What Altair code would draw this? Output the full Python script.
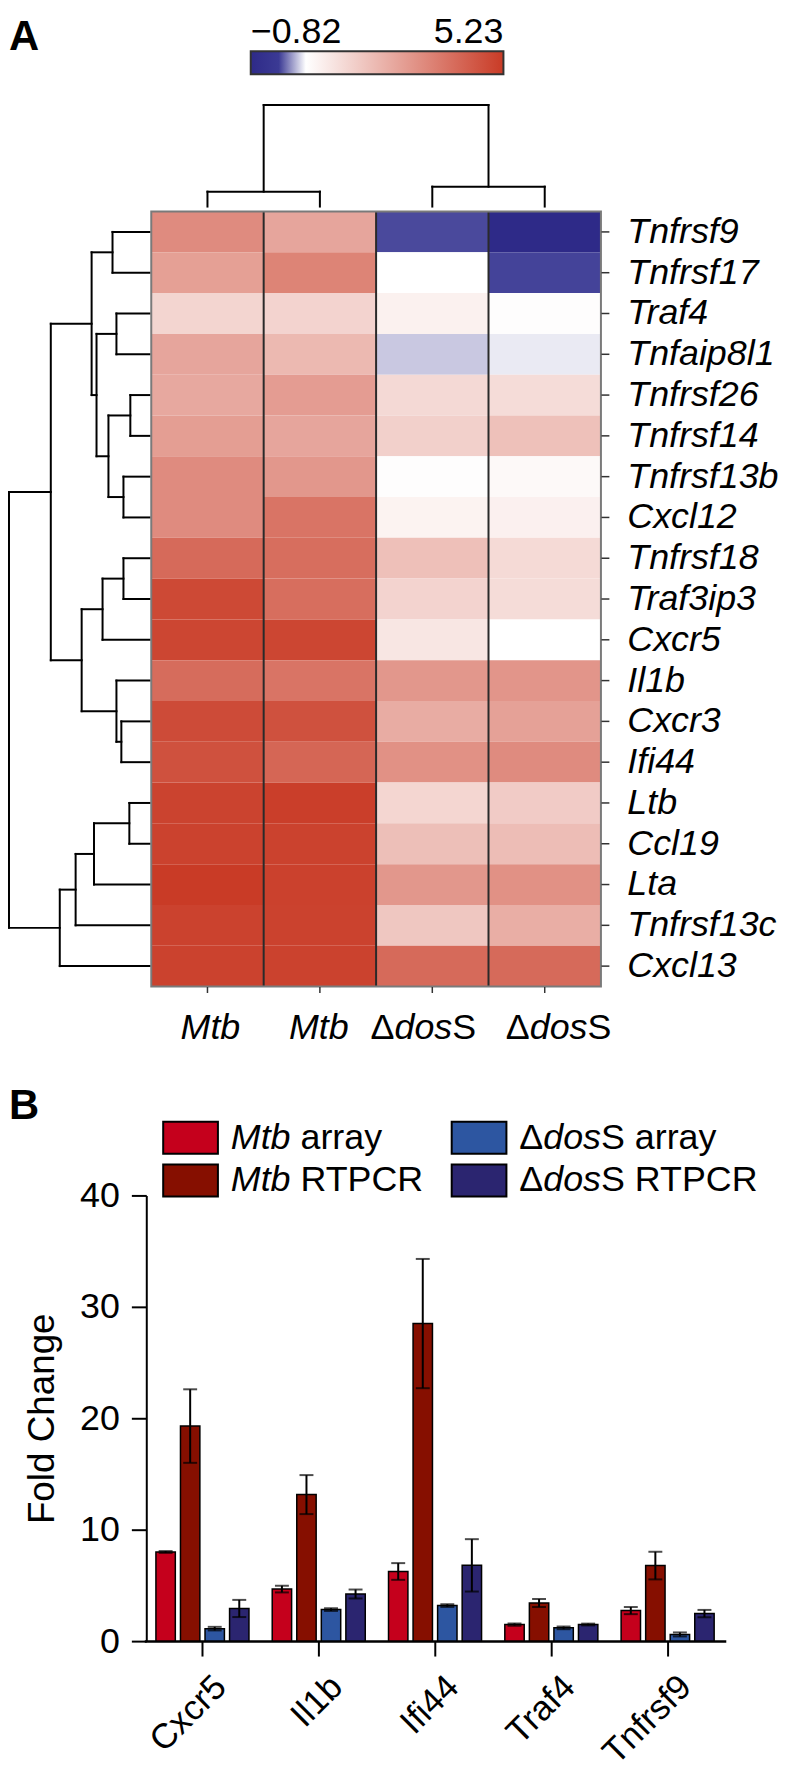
import altair as alt
import pandas as pd

FONT = "Liberation Sans, Arial, Helvetica, sans-serif"
CW, CH = 776, 1768

# ---------------- Panel A : heatmap data ----------------
genes = ["Tnfrsf9", "Tnfrsf17", "Traf4", "Tnfaip8l1", "Tnfrsf26", "Tnfrsf14",
         "Tnfrsf13b", "Cxcl12", "Tnfrsf18", "Traf3ip3", "Cxcr5", "Il1b", "Cxcr3",
         "Ifi44", "Ltb", "Ccl19", "Lta", "Tnfrsf13c", "Cxcl13"]
samples = ["Mtb_1", "Mtb_2", "dosS_1", "dosS_2"]

mtb_1 = [3.3, 2.8, 1.52, 2.66, 2.6, 2.85, 3.3, 3.3, 4.1, 4.9, 4.97, 4.05, 4.84, 4.7, 5.03, 5.05, 5.23, 5.05, 5.05]
mtb_2 = [2.66, 3.48, 1.55, 2.2, 2.88, 2.66, 3.0, 3.85, 4.0, 4.0, 4.97, 3.85, 4.7, 4.2, 5.15, 5.05, 5.08, 5.05, 5.05]
dos_1 = [-0.1, 0.5, 0.84, 0.32, 1.42, 1.64, 0.55, 0.8, 2.03, 1.55, 1.1, 3.0, 2.5, 3.15, 1.5, 2.05, 3.0, 1.86, 4.1]
dos_2 = [-0.82, -0.12, 0.55, 0.43, 1.35, 2.0, 0.65, 0.85, 1.4, 1.35, 0.5, 3.05, 2.76, 3.3, 1.75, 2.1, 3.15, 2.46, 4.1]

color_stops = [-0.82, -0.15, 0.5, 5.23]
color_range = ["#2e2a88", "#3b3a94", "#ffffff", "#c93b26"]
colorbar_labels = [-0.82, 5.23]

# dendrogram merges: (name, left child, right child, merge height)
row_merges = [
    ("A", "Tnfrsf9", "Tnfrsf17", 0.262),
    ("B", "Traf4", "Tnfaip8l1", 0.234),
    ("C1", "Tnfrsf26", "Tnfrsf14", 0.135),
    ("C2", "Tnfrsf13b", "Cxcl12", 0.184),
    ("C", "C1", "C2", 0.291),
    ("BC", "B", "C", 0.376),
    ("D", "A", "BC", 0.411),
    ("E", "Tnfrsf18", "Traf3ip3", 0.184),
    ("F", "E", "Cxcr5", 0.333),
    ("H", "Cxcr3", "Ifi44", 0.199),
    ("I", "Il1b", "H", 0.234),
    ("G", "F", "I", 0.482),
    ("J", "D", "G", 0.702),
    ("K", "Ltb", "Ccl19", 0.142),
    ("L", "K", "Lta", 0.394),
    ("M", "L", "Tnfrsf13c", 0.525),
    ("N", "M", "Cxcl13", 0.638),
    ("R", "J", "N", 1.0),
]
col_merges = [
    ("m", "Mtb_1", "Mtb_2", 0.147),
    ("d", "dosS_1", "dosS_2", 0.196),
    ("r", "m", "d", 1.0),
]

# ---------------- Panel B : bar data ----------------
genes_b = ["Cxcr5", "Il1b", "Ifi44", "Traf4", "Tnfrsf9"]
series = ["Mtb array", "Mtb RTPCR", "ΔdosS array", "ΔdosS RTPCR"]
series_colors = ["#c5001c", "#860f00", "#2d56a1", "#2b2570"]
mtb_array = [8.0, 4.67, 6.25, 1.49, 2.74]
mtb_array_err = [0.08, 0.3, 0.75, 0.1, 0.32]
mtb_rtpcr = [19.3, 13.15, 28.5, 3.42, 6.78]
mtb_rtpcr_err = [3.3, 1.75, 5.8, 0.36, 1.24]
dos_array = [1.12, 2.83, 3.19, 1.19, 0.6]
dos_array_err = [0.16, 0.12, 0.12, 0.12, 0.18]
dos_rtpcr = [2.93, 4.23, 6.8, 1.49, 2.47]
dos_rtpcr_err = [0.77, 0.4, 2.35, 0.08, 0.33]

# ---------------- helpers ----------------
CHW = {'A': 0.667, 'B': 0.667, 'C': 0.722, 'D': 0.722, 'M': 0.833, 'P': 0.667,
       'R': 0.722, 'S': 0.667, 'T': 0.611, 'a': 0.556, 'b': 0.556, 'd': 0.556,
       'o': 0.556, 'r': 0.333, 's': 0.5, 't': 0.278, 'y': 0.5, ' ': 0.278,
       'Δ': 0.668}


def tw(s, fs):
    return sum(CHW.get(c, 0.556) for c in s) * fs


def dendro_segments(leaves, merges):
    pos = {g: float(i) for i, g in enumerate(leaves)}
    hgt = {g: 0.0 for g in leaves}
    segs = []
    for name, a, b, h in merges:
        pa, pb = pos[a], pos[b]
        segs.append(dict(p1=pa, p2=pb, h1=h, h2=h))
        segs.append(dict(p1=pa, p2=pa, h1=hgt[a], h2=h))
        segs.append(dict(p1=pb, p2=pb, h1=hgt[b], h2=h))
        pos[name] = (pa + pb) / 2
        hgt[name] = h
    return pd.DataFrame(segs)


def q(domain, rng):
    return alt.Scale(domain=domain, range=rng, nice=False, zero=False)


# layout (chart pixel coordinates; page adds 8px margin)
HM_X = [144, 596]
HM_Y = [200, 979]
CB_X = [244, 498]
n_s, n_g = len(samples), len(genes)

# ---------------- heatmap ----------------
hm_rows = []
for s, vals in zip(samples, [mtb_1, mtb_2, dos_1, dos_2]):
    for g, v in zip(genes, vals):
        hm_rows.append({"gene": g, "sample": s, "value": v})
hm_df = pd.DataFrame(hm_rows)

hm_x_scale = alt.Scale(domain=samples, range=HM_X, paddingInner=0, paddingOuter=0)
hm_y_scale = alt.Scale(domain=genes, range=HM_Y, paddingInner=0, paddingOuter=0)

cells = alt.Chart(hm_df).mark_rect().encode(
    x=alt.X("sample:N", scale=hm_x_scale, title=None,
            axis=alt.Axis(orient="bottom", offset=HM_Y[1] - CH, labels=False,
                          domain=False, ticks=True, tickSize=6, tickColor="#333333",
                          tickWidth=1.5, grid=False)),
    y=alt.Y("gene:N", scale=hm_y_scale, title=None,
            axis=alt.Axis(orient="right", offset=HM_X[1] - CW, domain=False,
                          tickSize=8, tickColor="#333333", tickWidth=1.5,
                          labelFont=FONT, labelFontSize=36, labelFontStyle="italic",
                          labelPadding=18, labelColor="black", labelLimit=300,
                          labelOverlap=False, grid=False)),
    color=alt.Color("value:Q", scale=alt.Scale(domain=color_stops, range=color_range,
                                               interpolate="rgb"),
                    legend=None),
)

# colour bar: a rect spanning the colour domain, filled with the same stops
cb_scale = q([color_stops[0], color_stops[-1]], CB_X)
span = color_stops[-1] - color_stops[0]
cb_grad = alt.LinearGradient(
    gradient="linear", x1=0, x2=1, y1=0, y2=0,
    stops=[alt.GradientStop(color=c, offset=(s - color_stops[0]) / span)
           for s, c in zip(color_stops, color_range)])
cb_bar = alt.Chart(pd.DataFrame({"v1": [color_stops[0]], "v2": [color_stops[-1]]})).mark_rect(
    fill=cb_grad, stroke="#333333", strokeWidth=2).encode(
    x=alt.X("v1:Q", scale=cb_scale, axis=None), x2="v2:Q",
    y=alt.value(39), y2=alt.value(62))
cb_df = pd.DataFrame({"v": colorbar_labels,
                      "txt": [f"{v:.2f}".replace("-", "\u2212") for v in colorbar_labels]})
cb_left = alt.Chart(cb_df.iloc[:1]).mark_text(
    font=FONT, fontSize=36, align="left", baseline="alphabetic", color="black").encode(
    x=alt.X("v:Q", scale=cb_scale, axis=None), y=alt.value(31), text="txt:N")
cb_right = alt.Chart(cb_df.iloc[1:]).mark_text(
    font=FONT, fontSize=36, align="right", baseline="alphabetic", color="black").encode(
    x=alt.X("v:Q", scale=cb_scale, axis=None), y=alt.value(31), text="txt:N")
colorbar = alt.layer(cb_bar, cb_left, cb_right)

# outline and column dividers
ox = q([-0.5, n_s - 0.5], HM_X)
oy = q([-0.5, n_g - 0.5], HM_Y)
border_df = pd.DataFrame({"x1": [-0.5], "x2": [n_s - 0.5], "y1": [-0.5], "y2": [n_g - 0.5]})
div_df = pd.DataFrame({"x1": [i + 0.5 for i in range(n_s - 1)],
                       "y1": [-0.5] * (n_s - 1), "y2": [n_g - 0.5] * (n_s - 1)})
border = alt.Chart(border_df).mark_rect(fill="transparent", stroke="#7a7a7a", strokeWidth=2).encode(
    x=alt.X("x1:Q", scale=ox, axis=None), x2="x2:Q",
    y=alt.Y("y1:Q", scale=oy, axis=None), y2="y2:Q")
dividers = alt.Chart(div_df).mark_rule(color="#2a2a2a", strokeWidth=2).encode(
    x=alt.X("x1:Q", scale=ox, axis=None),
    y=alt.Y("y1:Q", scale=oy, axis=None), y2="y2:Q")
outline = alt.layer(dividers, border)

# row dendrogram
rd_df = dendro_segments(genes, row_merges)
rowd = alt.Chart(rd_df).mark_rule(color="black", strokeWidth=2, strokeCap="square").encode(
    x=alt.X("h1:Q", scale=q([0, 1], [142, 1]), axis=None), x2="h2:Q",
    y=alt.Y("p1:Q", scale=oy, axis=None), y2="p2:Q")

# column dendrogram
cd_df = dendro_segments(samples, col_merges)
cold = alt.Chart(cd_df).mark_rule(color="black", strokeWidth=2, strokeCap="square").encode(
    x=alt.X("p1:Q", scale=ox, axis=None), x2="p2:Q",
    y=alt.Y("h1:Q", scale=q([0, 1], [195, 93]), axis=None), y2="h2:Q")

# column labels with mixed italic
col_label_parts = {
    "Mtb_1": [("Mtb", "italic")],
    "Mtb_2": [("Mtb", "italic")],
    "dosS_1": [("Δ", "normal"), ("dos", "italic"), ("S", "normal")],
    "dosS_2": [("Δ", "normal"), ("dos", "italic"), ("S", "normal")],
}
col_label_nudge = {"Mtb_1": 3, "Mtb_2": -1, "dosS_1": -9, "dosS_2": 14}
LFS = 36
collab_layers = []
for s in samples:
    parts = col_label_parts[s]
    total = tw("".join(p for p, _ in parts), LFS)
    off = -total / 2 + col_label_nudge[s]
    for txt, style in parts:
        collab_layers.append(
            alt.Chart(pd.DataFrame({"sample": [s], "txt": [txt]})).mark_text(
                font=FONT, fontSize=LFS, fontStyle=style, align="left",
                baseline="alphabetic", dx=off, color="black"
            ).encode(x=alt.X("sample:N", scale=hm_x_scale, axis=None),
                     y=alt.value(1032), text="txt:N"))
        off += tw(txt, LFS)
collab = alt.layer(*collab_layers)

# ---------------- Panel B : bars ----------------
bar_rows = []
for sname, vals, errs in zip(series, [mtb_array, mtb_rtpcr, dos_array, dos_rtpcr],
                             [mtb_array_err, mtb_rtpcr_err, dos_array_err, dos_rtpcr_err]):
    for g, v, e in zip(genes_b, vals, errs):
        bar_rows.append({"gene": g, "series": sname, "value": v,
                         "lo": v - e, "hi": v + e})
bar_df = pd.DataFrame(bar_rows)

bx = alt.Scale(domain=genes_b, range=[137, 721.5], paddingInner=0.2, paddingOuter=0.1)
by = q([0, 40], [1637, 1189])
bxo = alt.Scale(domain=series, paddingInner=0.21, paddingOuter=0)
bcol = alt.Scale(domain=series, range=series_colors)

xaxis_b = alt.Axis(orient="bottom", offset=1637 - CH, tickSize=15, tickWidth=2,
                   tickColor="black", domainWidth=2.5, domainColor="black",
                   labelAngle=-45, labelAlign="right", labelBaseline="top",
                   labelFont=FONT, labelFontSize=35, labelPadding=13, labelOffset=6,
                   labelColor="black", grid=False)
yaxis_b = alt.Axis(orient="left", offset=-139, values=[0, 10, 20, 30, 40],
                   tickSize=15, tickWidth=2, tickColor="black", domainWidth=2,
                   domainColor="black", labelFont=FONT, labelFontSize=36,
                   labelPadding=12, labelColor="black", titleFont=FONT,
                   titleFontSize=37, titleFontWeight="normal", titleColor="black",
                   titlePadding=18, grid=False)

bbase = alt.Chart(bar_df).encode(
    x=alt.X("gene:N", scale=bx, axis=xaxis_b, title=None),
    xOffset=alt.XOffset("series:N", scale=bxo))
bars = bbase.mark_bar(stroke="black", strokeWidth=1.5).encode(
    y=alt.Y("value:Q", scale=by, axis=yaxis_b, title="Fold Change"),
    color=alt.Color("series:N", scale=bcol, legend=None))
err = bbase.mark_rule(color="black", strokeWidth=2).encode(
    y=alt.Y("lo:Q", scale=by, axis=yaxis_b, title="Fold Change"), y2="hi:Q")
cap_lo = bbase.mark_tick(orient="horizontal", size=14, thickness=2, color="black").encode(
    y=alt.Y("lo:Q", scale=by, axis=yaxis_b, title="Fold Change"))
cap_hi = bbase.mark_tick(orient="horizontal", size=14, thickness=2, color="black").encode(
    y=alt.Y("hi:Q", scale=by, axis=yaxis_b, title="Fold Change"))
bar_layer = alt.layer(bars, err, cap_lo, cap_hi)

# ---------------- Panel B : legend ----------------
leg_df = pd.DataFrame({"series": series,
                       "col": [i // 2 for i in range(len(series))],
                       "row": [i % 2 for i in range(len(series))]})
lx = q([0, 1], [183.5, 473.5])
ly = q([0, 1], [1131, 1174])
RECT = "M-1,-0.582H1V0.582H-1Z"
swatches = alt.Chart(leg_df).mark_point(shape=RECT, size=3025, filled=True, opacity=1,
                                         stroke="black", strokeWidth=2).encode(
    x=alt.X("col:Q", scale=lx, axis=None), y=alt.Y("row:Q", scale=ly, axis=None),
    color=alt.Color("series:N", scale=bcol, legend=None))

legend_parts = {
    "Mtb array": [("Mtb", "italic"), (" array", "normal")],
    "Mtb RTPCR": [("Mtb", "italic"), (" RTPCR", "normal")],
    "ΔdosS array": [("Δ", "normal"), ("dos", "italic"), ("S array", "normal")],
    "ΔdosS RTPCR": [("Δ", "normal"), ("dos", "italic"), ("S RTPCR", "normal")],
}
leg_text_layers = []
for _, r in leg_df.iterrows():
    off = 40.5
    for txt, style in legend_parts[r["series"]]:
        lead = len(txt) - len(txt.lstrip(" "))
        shown = txt.lstrip(" ")
        leg_text_layers.append(
            alt.Chart(pd.DataFrame({"col": [r["col"]], "row": [r["row"]], "txt": [shown]})).mark_text(
                font=FONT, fontSize=36, fontStyle=style, align="left", baseline="middle",
                dx=off + tw(" " * lead, 36), color="black"
            ).encode(x=alt.X("col:Q", scale=lx, axis=None),
                     y=alt.Y("row:Q", scale=ly, axis=None), text="txt:N"))
        off += tw(txt, 36)
legend_layer = alt.layer(swatches, *leg_text_layers)

# ---------------- panel letters ----------------
letterA = alt.Chart(pd.DataFrame({"t": ["A"]})).mark_text(
    font=FONT, fontSize=42, fontWeight="bold", align="left", baseline="alphabetic",
    color="black").encode(x=alt.value(1), y=alt.value(38), text="t:N")
letterB = alt.Chart(pd.DataFrame({"t": ["B"]})).mark_text(
    font=FONT, fontSize=42, fontWeight="bold", align="left", baseline="alphabetic",
    color="black").encode(x=alt.value(1), y=alt.value(1112), text="t:N")

chart = alt.layer(
    cells, colorbar, outline, rowd, cold, collab, bar_layer, legend_layer, letterA, letterB
).resolve_scale(
    x="independent", y="independent", color="independent"
).properties(
    width=CW, height=CH, autosize=alt.AutoSizeParams(type="none"), padding=0
).configure_view(stroke=None).configure_axis(labelFont=FONT, titleFont=FONT)

chart.save("out.html", embed_options={"renderer": "svg", "actions": False})
